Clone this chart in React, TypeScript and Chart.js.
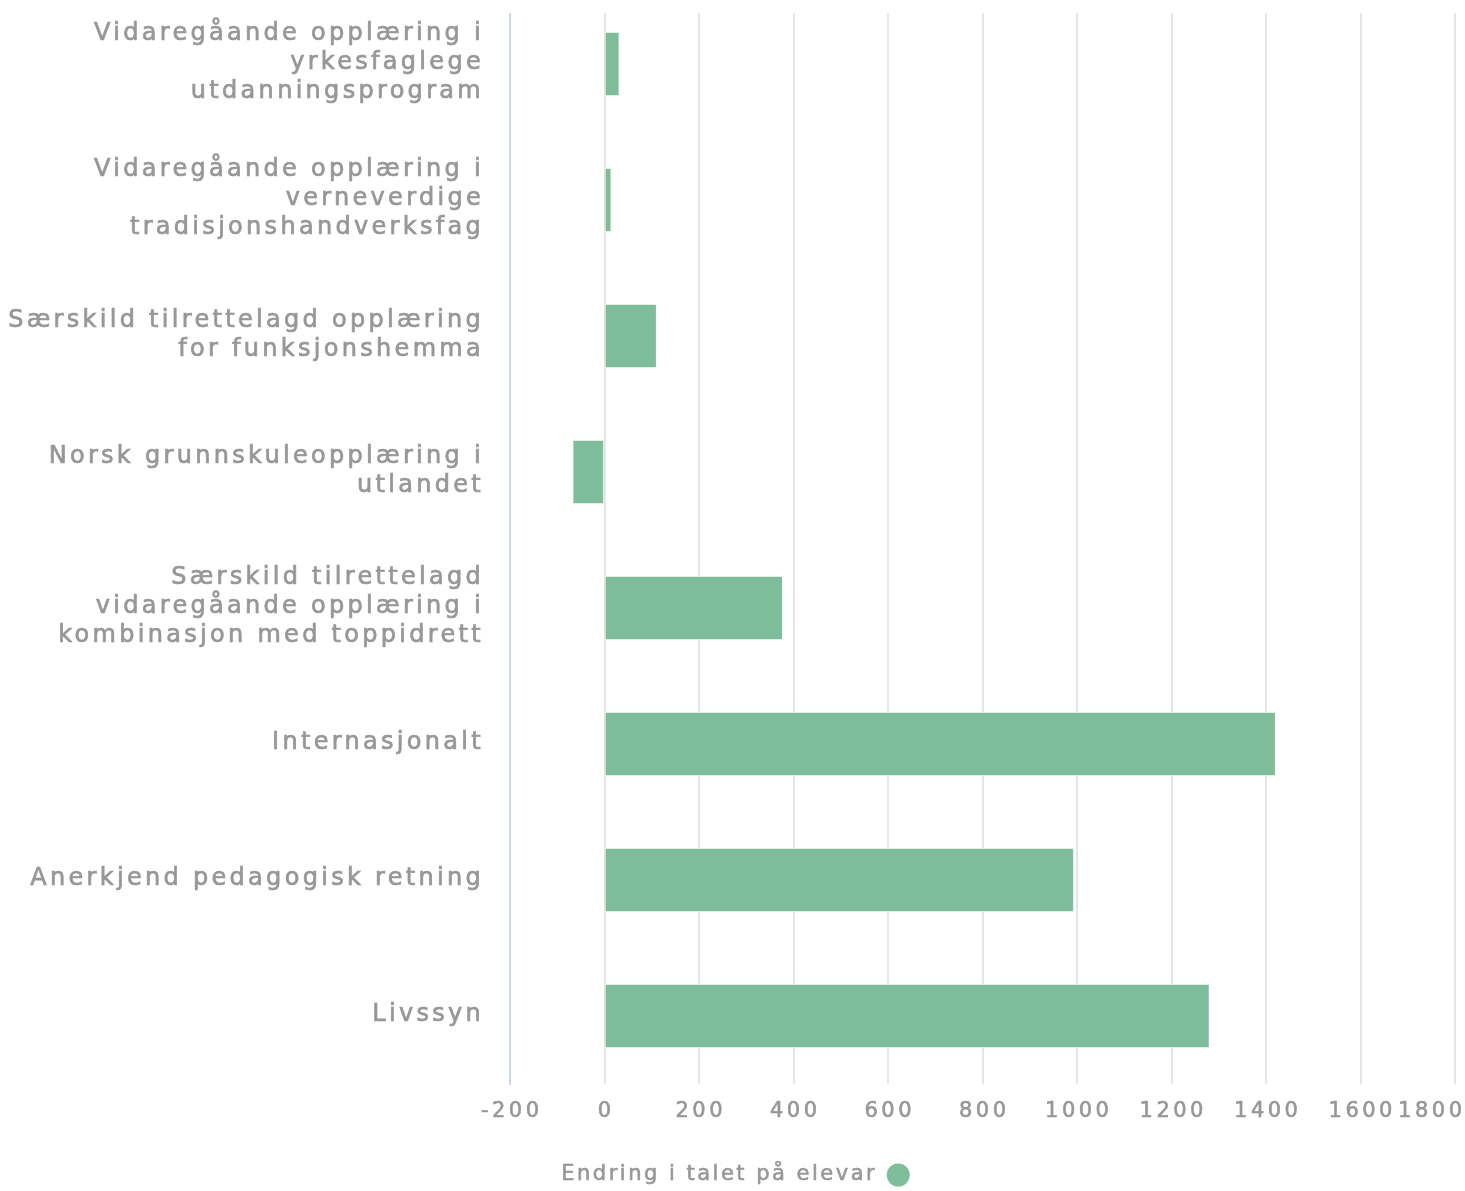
import { useEffect, useRef } from 'react';
import { Chart, registerables } from 'chart.js';

Chart.register(...registerables);

const categories: string[][] = [
  ['Vidaregåande opplæring i', 'yrkesfaglege', 'utdanningsprogram'],
  ['Vidaregåande opplæring i', 'verneverdige', 'tradisjonshandverksfag'],
  ['Særskild tilrettelagd opplæring', 'for funksjonshemma'],
  ['Norsk grunnskuleopplæring i', 'utlandet'],
  ['Særskild tilrettelagd', 'vidaregåande opplæring i', 'kombinasjon med toppidrett'],
  ['Internasjonalt'],
  ['Anerkjend pedagogisk retning'],
  ['Livssyn'],
];

const seriesName = 'Endring i talet på elevar';
const seriesValues = [32, 15, 111, -68, 378, 1421, 994, 1281];

const xTickValues = [-200, 0, 200, 400, 600, 800, 1000, 1200, 1400, 1600, 1800];
const xTickLabels = ['-200', '0', '200', '400', '600', '800', '1000', '1200', '1400', '1600', '1800'];

const FONT = '"DejaVu Sans", Verdana, sans-serif';
const BAR = '#7fbe9b';
const TEXT = '#979797';
const Y_SPACING = 3.3;
const X_SPACING = 3.5;
const LEG_SPACING = 2.5;

const customPlugin = {
  id: 'customLook',
  beforeUpdate(chart: any) {
    chart.ctx.letterSpacing = Y_SPACING + 'px';
  },
  afterLayout(chart: any) {
    const y = chart.scales.y;
    const area = chart.chartArea;
    const newTop = area.top - 4;
    area.top = newTop;
    area.height = area.bottom - newTop;
    y.top = newTop;
    y.height = y.bottom - newTop;
    y.configure();
  },
  beforeDraw(chart: any) {
    chart.ctx.letterSpacing = Y_SPACING + 'px';
  },
  beforeDatasetsDraw(chart: any) {
    const { ctx, chartArea } = chart;
    if (chartArea.top < 13) {
      ctx.save();
      ctx.fillStyle = '#ffffff';
      ctx.fillRect(chartArea.left - 3, chartArea.top - 2, chartArea.right - chartArea.left + 8, 13 - chartArea.top + 2);
      ctx.restore();
    }
  },
  afterDraw(chart: any) {
    const ctx = chart.ctx;
    const xs = chart.scales.x;
    ctx.save();
    ctx.font = `21px ${FONT}`;
    ctx.fillStyle = TEXT;
    ctx.strokeStyle = TEXT;
    ctx.lineWidth = 0.6;
    ctx.lineJoin = 'round';
    ctx.textBaseline = 'middle';
    ctx.textAlign = 'left';
    // x tick labels
    ctx.letterSpacing = X_SPACING + 'px';
    const ty = chart.chartArea.bottom + 28;
    xs.ticks.forEach((t: any, i: number) => {
      const label = xTickLabels[i] ?? String(t.value);
      const x = xs.getPixelForValue(t.value);
      const w = ctx.measureText(label).width - X_SPACING;
      let left = x - w / 2;
      if (left + w > chart.width - 3) left = chart.width - 3 - w;
      ctx.strokeText(label, left, ty);
      ctx.fillText(label, left, ty);
    });
    // legend
    ctx.letterSpacing = LEG_SPACING + 'px';
    const name = chart.data.datasets[0].label;
    const tw = ctx.measureText(name).width - LEG_SPACING;
    const r = 11.5;
    const gap = 12;
    const total = tw + gap + 2 * r;
    const sx = chart.width / 2 - total / 2 + 3;
    const cy = xs.bottom + 41;
    ctx.strokeText(name, sx, cy);
    ctx.fillText(name, sx, cy);
    ctx.beginPath();
    ctx.arc(sx + tw + gap + r, cy, r, 0, Math.PI * 2);
    ctx.fillStyle = chart.data.datasets[0].backgroundColor;
    ctx.fill();
    ctx.restore();
  },
};

export default function App() {
  const ref = useRef<HTMLCanvasElement>(null);
  useEffect(() => {
    document.body.style.margin = '0';
    const chart = new Chart(ref.current as HTMLCanvasElement, {
      type: 'bar',
      data: {
        labels: categories,
        datasets: [
          {
            label: seriesName,
            data: seriesValues,
            backgroundColor: BAR,
            borderColor: '#ffffff',
            borderWidth: 1,
            barPercentage: 0.475,
            categoryPercentage: 1,
          },
        ],
      },
      options: {
        indexAxis: 'y',
        responsive: false,
        animation: false,
        layout: { padding: { top: 0, right: 10, bottom: 57, left: 0 } },
        plugins: {
          legend: { display: false },
          tooltip: { enabled: false },
        },
        scales: {
          x: {
            type: 'linear',
            min: -200,
            max: 1800,
            afterBuildTicks: (s: any) => {
              s.ticks = xTickValues.map((v) => ({ value: v }));
            },
            ticks: { display: false },
            grid: {
              color: (c: any) => (c.tick && c.tick.value === -200 ? 'rgba(0,0,0,0)' : '#e6e6e6'),
              lineWidth: 2,
              drawTicks: false,
            },
            border: { display: false },
            afterFit: (s: any) => {
              s.height = 50;
              s.paddingLeft = 0;
              s.paddingRight = 0;
            },
          },
          y: {
            ticks: {
              font: { family: FONT, size: 24, lineHeight: '29px' },
              color: TEXT,
              padding: 26,
              labelOffset: -1,
              textStrokeColor: TEXT,
              textStrokeWidth: 0.7,
            },
            grid: { display: false, drawTicks: false },
            border: { display: true, color: '#ccd6eb', width: 2 },
            afterFit: (s: any) => {
              s.width = 510;
              s.paddingTop = 0;
              s.paddingBottom = 0;
            },
          },
        },
      },
      plugins: [customPlugin],
    } as any);
    return () => chart.destroy();
  }, []);
  return (
    <div style={{ width: 1465, height: 1191 }}>
      <canvas ref={ref} width={1465} height={1191} style={{ display: 'block' }} />
    </div>
  );
}
